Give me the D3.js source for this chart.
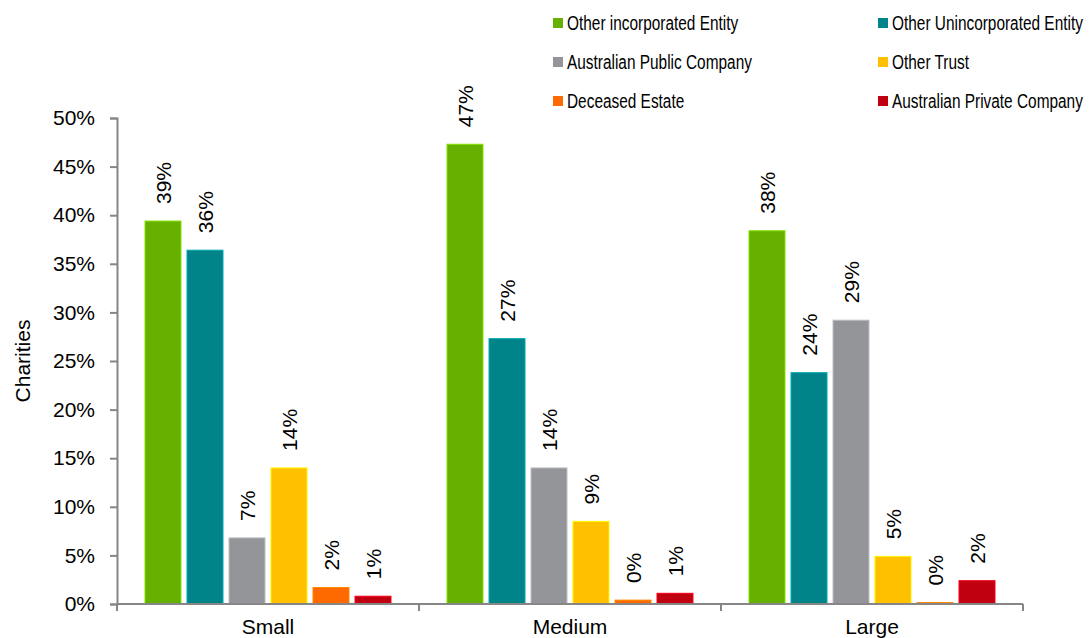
<!DOCTYPE html>
<html>
<head>
<meta charset="utf-8">
<script src="https://cdn.jsdelivr.net/npm/d3@7"></script>
<style>
  body { margin: 0; background: #fff; }
  svg text { font-family: "Liberation Sans", Arial, sans-serif; fill: #000; }
</style>
</head>
<body>
<svg id="chart" width="1091" height="638"></svg>
<script>
// Chart data
const sizes = ["Small", "Medium", "Large"];
const entityTypes = [
    "Other incorporated Entity",
    "Other Unincorporated Entity",
    "Australian Public Company",
    "Other Trust",
    "Deceased Estate",
    "Australian Private Company"
];
const typeColors = ["#66b100", "#00848a", "#939598", "#ffc000", "#ff6a00", "#c00010"];
// share of charities per size, in entityTypes order
const smallValues = [0.394, 0.364, 0.068, 0.140, 0.017, 0.008];
const mediumValues = [0.473, 0.273, 0.140, 0.085, 0.004, 0.011];
const largeValues = [0.384, 0.238, 0.292, 0.049, 0.0015, 0.024];
const yTicks = [0, 0.05, 0.1, 0.15, 0.2, 0.25, 0.3, 0.35, 0.4, 0.45, 0.5];

const valuesBySize = [smallValues, mediumValues, largeValues];

const svg = d3.select("#chart");
const width = +svg.attr("width");
const height = +svg.attr("height");
const margin = { top: 118, right: 68, bottom: 34, left: 117 };
const axisColor = "#868686";

const x0 = d3.scaleBand()
    .domain(sizes)
    .range([margin.left, width - margin.right]);

const x1 = d3.scaleBand()
    .domain(entityTypes)
    .range([0, x0.bandwidth()])
    .paddingInner(0.143)
    .paddingOuter(0.667);

const y = d3.scaleLinear()
    .domain([0, 0.5])
    .range([height - margin.bottom, margin.top]);

const color = d3.scaleOrdinal().domain(entityTypes).range(typeColors);

// Y axis
const yAxis = svg.append("g")
    .attr("transform", `translate(${margin.left},0)`)
    .call(d3.axisLeft(y).tickValues(yTicks).tickFormat(d3.format(".0%")).tickSize(7).tickPadding(15));
yAxis.select(".domain").attr("stroke", axisColor).attr("stroke-width", 2);
yAxis.selectAll(".tick line").attr("stroke", axisColor).attr("stroke-width", 2);
yAxis.selectAll(".tick text").attr("font-size", 21).attr("font-family", "Liberation Sans, Arial, sans-serif").attr("fill", "#000");

svg.append("text")
    .attr("transform", `translate(30,${(margin.top + height - margin.bottom) / 2}) rotate(-90)`)
    .attr("text-anchor", "middle")
    .attr("font-size", 21)
    .text("Charities");

// Bars
const groups = svg.append("g").selectAll("g")
    .data(sizes.map((s, i) => ({ size: s, values: valuesBySize[i] })))
    .join("g")
    .attr("transform", d => `translate(${x0(d.size)},0)`);

const bars = groups.selectAll("g")
    .data(d => d.values.map((v, j) => ({ type: entityTypes[j], value: v })))
    .join("g");

bars.append("rect")
    .attr("x", d => x1(d.type))
    .attr("y", d => y(d.value))
    .attr("width", x1.bandwidth())
    .attr("height", d => y(0) - y(d.value))
    .attr("fill", d => color(d.type))
    .attr("stroke", d => d3.color(color(d.type)).brighter(0.7))
    .attr("stroke-width", 1);

bars.append("text")
    .attr("transform", d => `translate(${x1(d.type) + x1.bandwidth() / 2},${y(d.value) - 17}) rotate(-90)`)
    .attr("dy", "0.36em")
    .attr("font-size", 21)
    .text(d => d3.format(".0%")(d.value));

// X axis
const xAxis = svg.append("g")
    .attr("transform", `translate(0,${y(0)})`);
xAxis.append("line")
    .attr("x1", x0.range()[0]).attr("x2", x0.range()[1])
    .attr("stroke", axisColor).attr("stroke-width", 2);
xAxis.selectAll(".sep")
    .data(sizes.map(s => x0(s)).concat([x0.range()[1]]))
    .join("line")
    .attr("class", "sep")
    .attr("x1", d => d).attr("x2", d => d)
    .attr("y1", 0).attr("y2", 7)
    .attr("stroke", axisColor).attr("stroke-width", 2);
xAxis.selectAll(".cat")
    .data(sizes)
    .join("text")
    .attr("class", "cat")
    .attr("x", d => x0(d) + x0.bandwidth() / 2)
    .attr("y", 30)
    .attr("text-anchor", "middle")
    .attr("font-size", 21)
    .text(d => d);

// Legend, two columns
const legend = svg.append("g");
const legendItems = legend.selectAll("g")
    .data(entityTypes)
    .join("g")
    .attr("transform", (d, i) => `translate(${553 + (i % 2) * 325},${23 + Math.floor(i / 2) * 39})`);

legendItems.append("rect")
    .attr("x", 0).attr("y", -5)
    .attr("width", 10).attr("height", 10)
    .attr("fill", d => color(d));

legendItems.append("text")
    .attr("x", 14)
    .attr("dy", "0.36em")
    .attr("font-size", 20)
    .text(d => d)
    .each(function () {
        const w = this.getComputedTextLength();
        d3.select(this).attr("textLength", w * 0.77).attr("lengthAdjust", "spacingAndGlyphs");
    });
</script>
</body>
</html>
